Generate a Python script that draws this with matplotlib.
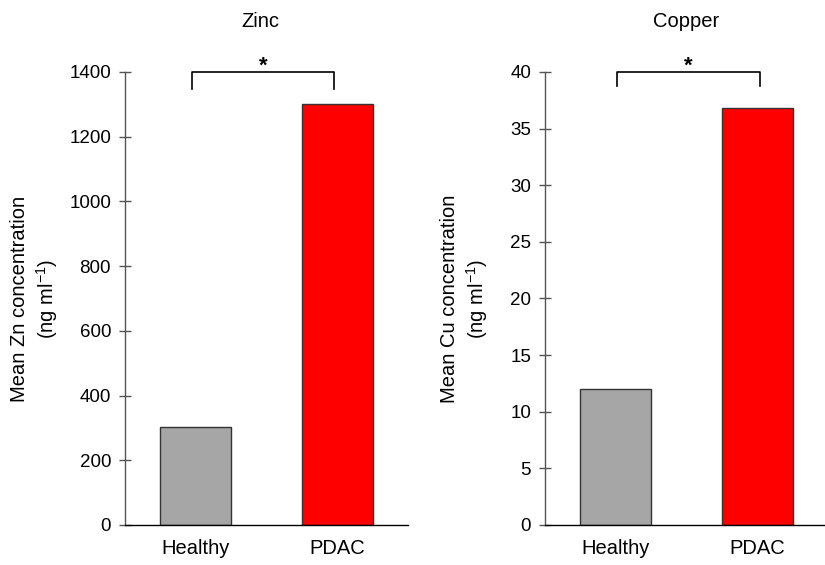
import matplotlib.pyplot as plt

plt.rcParams['font.family'] = ['Liberation Sans', 'DejaVu Sans']
plt.rcParams['mathtext.fontset'] = 'custom'
plt.rcParams['mathtext.rm'] = 'Liberation Sans'

groups = ['Healthy', 'PDAC']
bar_colors = ['#a6a6a6', '#ff0000']

zinc = [304, 1302]
copper = [12.05, 36.8]

zinc_ticks = [0, 200, 400, 600, 800, 1000, 1200, 1400]
copper_ticks = [0, 5, 10, 15, 20, 25, 30, 35, 40]

fig = plt.figure(figsize=(8.25, 5.65), dpi=100)

# left panel - zinc
ax1 = fig.add_axes([0.1515, 0.0708, 0.343, 0.8018])
# right panel - copper
ax2 = fig.add_axes([0.6606, 0.0708, 0.343, 0.8018])


def panel(ax, vals, ticks, title, ylab, title_x, lab_x, brx, leg):
    ax.bar([0, 1], vals, width=0.5, color=bar_colors, edgecolor='#333333', linewidth=1)
    ax.set_xlim(-0.5, 1.5)
    ax.set_ylim(0, ticks[-1])
    ax.set_yticks(ticks)
    ax.set_xticks([0, 1])
    ax.set_xticklabels(groups, fontsize=14.5)
    ax.tick_params(axis='x', length=0, pad=10)
    ax.tick_params(axis='y', direction='inout', length=8, width=1, color='#555555',
                   labelsize=13.5, pad=6)
    for s in ['top', 'right']:
        ax.spines[s].set_visible(False)
    ax.spines['left'].set_color('#555555')
    ax.spines['bottom'].set_color('black')
    ax.spines['left'].set_linewidth(1)
    ax.spines['bottom'].set_linewidth(1)

    ax.set_ylabel(ylab, fontsize=14.5, linespacing=1.25)
    ax.yaxis.set_label_coords(lab_x, 0.5)

    ax.text(title_x, 1.112, title, transform=ax.get_xaxis_transform(),
            ha='center', va='center', fontsize=14.5)

    # significance bracket
    top = ticks[-1]
    ax.plot([brx[0], brx[0], brx[1], brx[1]], [leg, top, top, leg],
            color='black', linewidth=1.2, clip_on=False)
    ax.text((brx[0] + brx[1]) / 2, 1.012, '*', transform=ax.get_xaxis_transform(),
            ha='center', va='center', fontsize=16, fontweight='bold')


panel(ax1, zinc, zinc_ticks, 'Zinc', 'Mean Zn concentration\n(ng ml$^{\\mathregular{-1}}$)',
      0.46, -0.23, [-0.025, 0.979], 1347)
panel(ax2, copper, copper_ticks, 'Copper', 'Mean Cu concentration\n(ng ml$^{\\mathregular{-1}}$)',
      0.5, -0.195, [0.01, 1.018], 38.76)

fig.savefig('out.png', dpi=100)
